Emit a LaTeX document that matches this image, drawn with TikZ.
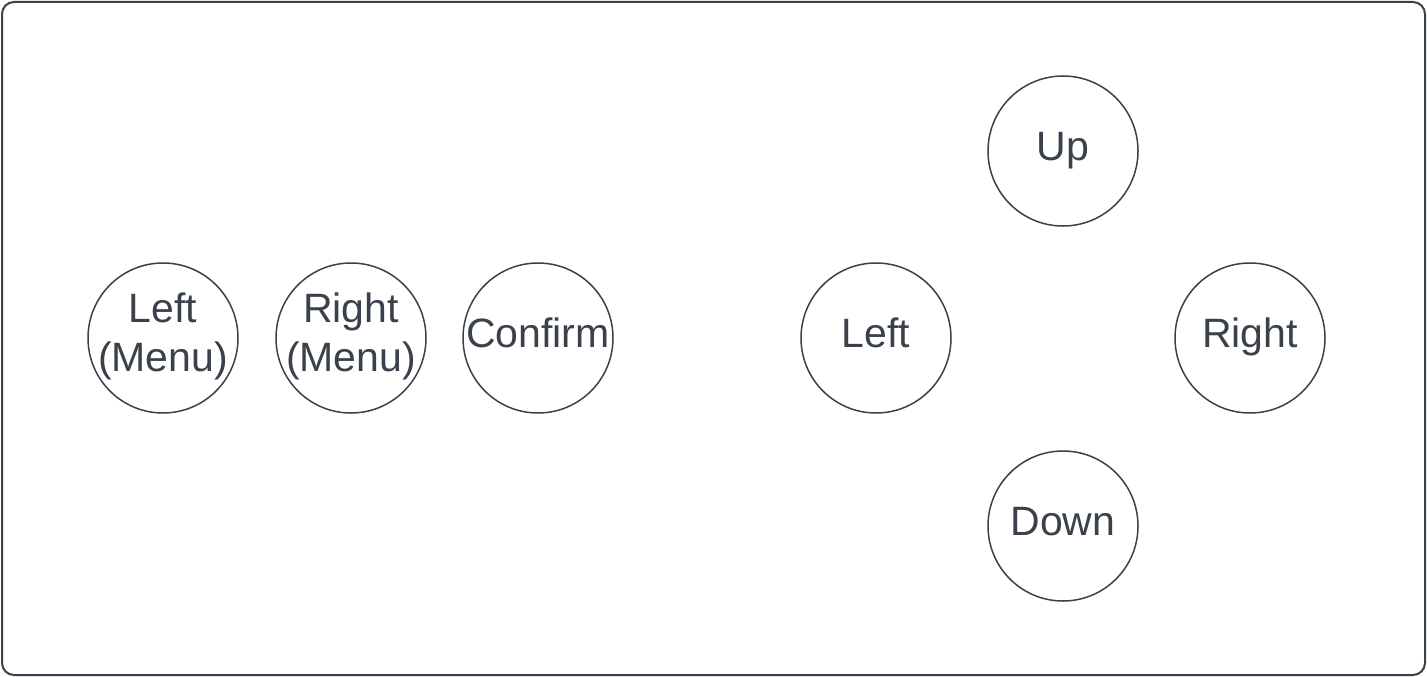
\documentclass[tikz,border=0pt]{standalone}
\usepackage{fontspec}
\setmainfont{Liberation Sans}
\definecolor{ink}{HTML}{3A414A}
\begin{document}
\begin{tikzpicture}[x=1pt,y=-1pt,
  btn/.style={circle,draw=ink,line width=1.5pt,minimum size=150pt,inner sep=0pt},
  lbl/.style={text=ink,font=\fontsize{41}{49}\selectfont,align=center,inner sep=0pt},
  one/.style={lbl,anchor=base}]
\useasboundingbox (0,0) rectangle (1427,677);
\draw[ink,line width=2pt,rounded corners=12pt] (2,2) rectangle (1425,675);
\node[btn] (lm) at (163,338) {};
\node[btn] (rm) at (351,338) {};
\node[btn] (cf) at (538,338) {};
\node[btn] (lf) at (876,338) {};
\node[btn] (up) at (1063,151) {};
\node[btn] (rt) at (1250,338) {};
\node[btn] (dn) at (1063,526) {};
\node[lbl] (tlm) at ([yshift=2pt]lm.center) {Left\\(Menu)};
\node[lbl] (trm) at ([yshift=2pt]rm.center) {Right\\(Menu)};
\node[one] (tcf) at ([yshift=-9pt]cf.center) {Confirm};
\node[one] (tlf) at ([yshift=-9pt]lf.center) {Left};
\node[one] (tup) at ([yshift=-9pt]up.center) {Up};
\node[one] (trt) at ([yshift=-9pt]rt.center) {Right};
\node[one] (tdn) at ([yshift=-9pt]dn.center) {Down};
\end{tikzpicture}
\end{document}
